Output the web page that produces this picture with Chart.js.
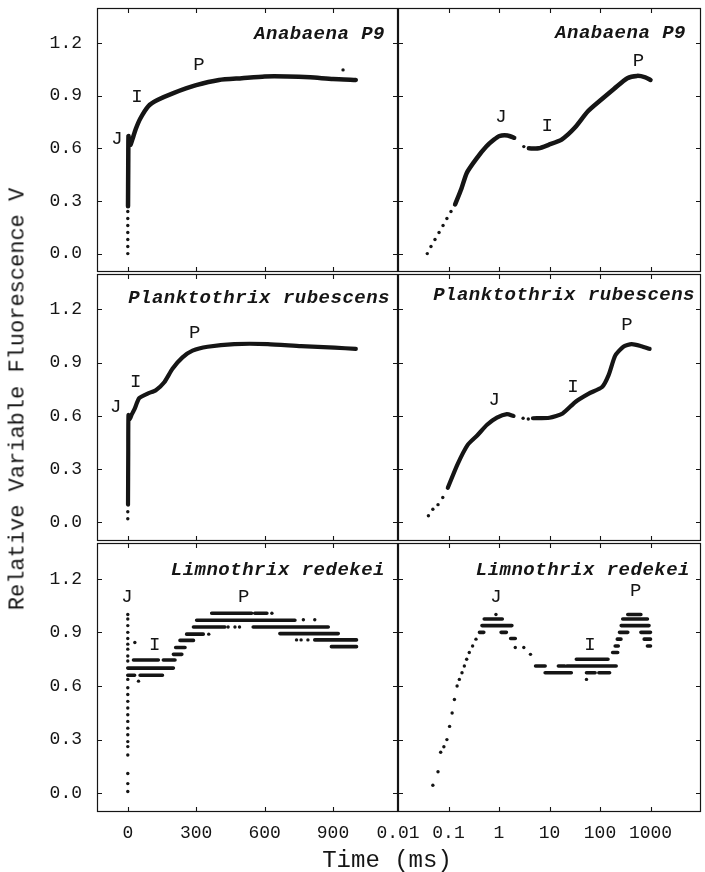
<!DOCTYPE html>
<html>
<head>
<meta charset="utf-8">
<script src="https://cdn.jsdelivr.net/npm/chart.js@4.4.1/dist/chart.umd.min.js"></script>
<style>
  html, body { margin: 0; padding: 0; background: #fff; }
  #wrap { position: relative; width: 705px; height: 872px; background: #fff; overflow: hidden; }
  canvas { position: absolute; }
  .sp { position: absolute; font: italic bold 19px "Liberation Mono", "DejaVu Sans Mono", monospace; letter-spacing: 0.5px; line-height: 24px; color: #151515; white-space: nowrap; }
  #xt { position: absolute; left: 387px; top: 860px; transform: translate(-50%, -50%); font: 24px "Liberation Mono", monospace; color: #151515; white-space: nowrap; }
  #yt { position: absolute; left: 18px; top: 399px; transform: translate(-50%, -50%) rotate(-90deg); font: 22px "Liberation Mono", monospace; color: #151515; white-space: nowrap; }
</style>
</head>
<body>
<div id="wrap">
  <canvas id="c00" width="402" height="276"></canvas>
  <canvas id="c01" width="365" height="276"></canvas>
  <canvas id="c10" width="402" height="275"></canvas>
  <canvas id="c11" width="365" height="275"></canvas>
  <canvas id="c20" width="402" height="333"></canvas>
  <canvas id="c21" width="365" height="333"></canvas>
  <div id="xt">Time (ms)</div>
  <div id="yt">Relative Variable Fluorescence V</div>
</div>
<script>
// ---------------- data ----------------
const SPECIES = ['Anabaena P9', 'Planktothrix rubescens', 'Limnothrix redekei'];
const LEFT_X_TICKS = [0, 300, 600, 900];
const RIGHT_X_TICKS = [0.01, 0.1, 1, 10, 100, 1000];
const Y_TICKS = [0, 0.3, 0.6, 0.9, 1.2];

// Anabaena P9, linear time (ms, V)
const anabaenaLinLine = [[1,0.27],[2,0.50],[3,0.67],[6,0.62],[12,0.62],[20,0.65],[35,0.71],[55,0.77],[90,0.84],[130,0.875],[200,0.915],[300,0.96],[400,0.99],[500,1.0],[600,1.01],[700,1.01],[800,1.005],[900,0.995],[1000,0.99]];
const anabaenaLinDots = [[0,0.0],[0,0.04],[0,0.08],[0,0.12],[0,0.16],[0,0.20],[0,0.24],[944,1.047]];
const anabaenaLinMarks = [[-47,0.656,'J'],[40,0.89,'I'],[312,1.075,'P']];
// Anabaena P9, log time
const anabaenaLogLine = [[0.135,0.28],[0.18,0.37],[0.23,0.46],[0.355,0.54],[0.56,0.61],[0.8,0.65],[1.01,0.67],[1.48,0.673],[2.0,0.66],[2.5,null],[3.9,0.60],[6.1,0.60],[9.6,0.62],[17.4,0.65],[31.6,0.717],[57,0.81],[105,0.877],[191,0.94],[347,1.0],[543,1.013],[790,1.005],[1000,0.99]];
const anabaenaLogDots = [[0.038,0.0],[0.045,0.04],[0.054,0.08],[0.065,0.12],[0.078,0.16],[0.093,0.20],[0.112,0.24],[3.1,0.61]];
const anabaenaLogMarks = [[1.09,0.78,'J'],[9.0,0.725,'I'],[575,1.10,'P']];

// Planktothrix rubescens, linear time
const plankLinLine = [[1,0.10],[2,0.40],[3,0.605],[8,0.58],[18,0.61],[30,0.64],[50,0.70],[87,0.726],[123,0.745],[160,0.79],[196,0.866],[240,0.93],[284,0.968],[350,0.99],[467,1.005],[614,1.005],[760,0.993],[907,0.985],[1000,0.978]];
const plankLinDots = [[0,0.02],[0,0.06]];
const plankLinMarks = [[-53,0.65,'J'],[35,0.79,'I'],[294,1.07,'P']];
// Planktothrix rubescens, log time
const plankLogLine = [[0.097,0.195],[0.15,0.326],[0.24,0.437],[0.37,0.49],[0.58,0.55],[0.91,0.59],[1.43,0.61],[1.94,0.60],[2.5,null],[4.7,0.587],[10,0.59],[18.2,0.614],[33,0.68],[60,0.726],[110,0.763],[148,0.83],[200,0.94],[290,0.99],[423,1.005],[660,0.993],[960,0.978]];
const plankLogDots = [[0.04,0.037],[0.049,0.074],[0.062,0.10],[0.077,0.14],[3.0,0.587],[3.8,0.583]];
const plankLogMarks = [[0.8,0.69,'J'],[29,0.765,'I'],[340,1.11,'P']];

// Limnothrix redekei, linear time: quantised runs [t start, t end, V]
const limnoLinRuns = [[0,200,0.70],[25,134,0.745],[156,207,0.745],[0,30,0.66],[54,152,0.66],[200,237,0.777],[210,251,0.815],[229,288,0.855],[258,331,0.89],[288,426,0.93],[550,879,0.93],[302,733,0.968],[368,543,1.007],[557,610,1.007],[667,923,0.893],[820,1003,0.858],[893,1003,0.82]];
const limnoLinDots = [[0,1.0],[0,0.975],[0,0.938],[0,0.9],[0,0.866],[0,0.834],[0,0.806],[0,0.768],[0,0.74],[0,0.637],[0,0.59],[0,0.552],[0,0.514],[0,0.477],[0,0.439],[0,0.402],[0,0.364],[0,0.327],[0,0.289],[0,0.261],[0,0.214],[0,0.11],[0,0.054],[0,0.01],[31,0.843],[47,0.627],[355,0.89],[440,0.93],[470,0.93],[490,0.93],[632,1.007],[770,0.971],[820,0.971],[740,0.858],[760,0.858],[790,0.858]];
const limnoLinMarks = [[-4,1.10,'J'],[118,0.83,'I'],[508,1.10,'P']];
// Limnothrix redekei, log time
const limnoLogRuns = [[0.41,0.5,0.90],[0.46,1.8,0.938],[0.51,1.16,0.975],[1.1,1.4,0.90],[1.7,2.1,0.866],[5.3,8.2,0.712],[8.2,27,0.674],[15,20,0.712],[22,209,0.712],[34,144,0.75],[54,80,0.674],[95,155,0.674],[178,224,0.787],[200,230,0.824],[220,260,0.862],[243,355,0.90],[263,935,0.938],[282,870,0.975],[355,645,1.0],[645,1000,0.90],[750,1000,0.862],[870,1000,0.824]];
const limnoLogDots = [[0.049,0.045],[0.062,0.12],[0.070,0.229],[0.081,0.26],[0.093,0.30],[0.105,0.374],[0.118,0.449],[0.131,0.524],[0.148,0.60],[0.164,0.637],[0.185,0.674],[0.206,0.712],[0.229,0.75],[0.258,0.787],[0.30,0.824],[0.35,0.862],[0.87,1.0],[2.1,0.815],[3.1,0.815],[4.2,0.777],[54,0.637]];
const limnoLogMarks = [[0.87,1.10,'J'],[63,0.83,'I'],[510,1.13,'P']];

// ---------------- layout ----------------
const INK = '#151515';
const MONO = '"Liberation Mono", "DejaVu Sans Mono", monospace';
const ROWS = [
  { top: 0,   h: 276, pt: 8, pb: 2,  xh: 0 },
  { top: 270, h: 275, pt: 4, pb: 2,  xh: 0 },
  { top: 539, h: 333, pt: 4, pb: 20, xh: 40 }
];
const COLS = [
  { left: 0,   w: 402, yw: 97, pr: 4 },
  { left: 340, w: 365, yw: 58, pr: 1 }
];
const LABEL_POS = [
  [[385, 34], [686, 33]],
  [[390, 298], [695, 295]],
  [[385, 570], [690, 570]]
];

function fmtLog(v) { return v < 1 ? String(v) : String(Math.round(v)); }

function framePlugin(xTicks, marks) {
  return {
    id: 'frame',
    afterDatasetsDraw(chart) {
      const { ctx, chartArea: a, scales: { x, y } } = chart;
      ctx.save();
      ctx.strokeStyle = INK;
      ctx.lineWidth = 1.2;
      ctx.strokeRect(Math.round(a.left) + 0.5, Math.round(a.top) + 0.5, Math.round(a.right - a.left) - 1, Math.round(a.bottom - a.top) - 1);
      ctx.lineWidth = 1.1;
      const L = 5;
      ctx.beginPath();
      for (const v of xTicks) {
        const px = Math.round(x.getPixelForValue(v)) + 0.5;
        if (px <= a.left + 1 || px >= a.right - 1) continue;
        ctx.moveTo(px, a.top); ctx.lineTo(px, a.top + L);
        ctx.moveTo(px, a.bottom); ctx.lineTo(px, a.bottom - L);
      }
      for (const v of Y_TICKS) {
        const py = Math.round(y.getPixelForValue(v)) + 0.5;
        ctx.moveTo(a.left, py); ctx.lineTo(a.left + L, py);
        ctx.moveTo(a.right, py); ctx.lineTo(a.right - L, py);
      }
      ctx.stroke();
      ctx.fillStyle = INK;
      ctx.font = '19px ' + MONO;
      ctx.textAlign = 'center';
      ctx.textBaseline = 'middle';
      for (const [t, v, s] of marks) ctx.fillText(s, x.getPixelForValue(t), y.getPixelForValue(v));
      ctx.restore();
    }
  };
}

function toXY(arr) { return arr.map(([t, v]) => ({ x: t, y: v })); }
function runsToXY(runs) {
  const out = [];
  for (const [a, b, v] of runs) { out.push({ x: a, y: v }, { x: b, y: v }, { x: b, y: null }); }
  return out;
}

function panel(r, c, spec) {
  const row = ROWS[r], col = COLS[c];
  const cv = document.getElementById('c' + r + c);
  cv.style.left = col.left + 'px';
  cv.style.top = row.top + 'px';
  const logX = c === 1;
  const xTicks = logX ? RIGHT_X_TICKS : LEFT_X_TICKS;
  const datasets = [];
  if (spec.line) datasets.push({ data: toXY(spec.line), borderColor: INK, borderWidth: spec.lw, tension: 0.2, pointRadius: 0, borderCapStyle: 'round', borderJoinStyle: 'round', spanGaps: false, fill: false });
  if (spec.runs) datasets.push({ data: runsToXY(spec.runs), borderColor: INK, borderWidth: 3.6, tension: 0, pointRadius: 0, borderCapStyle: 'round', spanGaps: false, fill: false });
  datasets.push({ data: toXY(spec.dots), showLine: false, pointRadius: 1.7, pointBorderWidth: 0, pointBackgroundColor: INK, borderColor: INK });

  new Chart(cv, {
    type: 'line',
    data: { datasets },
    plugins: [framePlugin(xTicks, spec.marks)],
    options: {
      responsive: false,
      animation: false,
      events: [],
      layout: { padding: { left: 0, right: col.pr, top: row.pt, bottom: row.pb } },
      plugins: { legend: { display: false }, tooltip: { enabled: false } },
      scales: {
        x: {
          type: logX ? 'logarithmic' : 'linear',
          min: logX ? 0.01 : -135,
          max: logX ? 10000 : 1185,
          grid: { display: false, drawTicks: false },
          border: { display: false },
          afterBuildTicks: s => { s.ticks = xTicks.map(v => ({ value: v })); },
          afterFit: s => { s.height = row.xh; s.paddingLeft = 0; s.paddingRight = 0; },
          ticks: {
            display: r === 2,
            autoSkip: false,
            maxRotation: 0,
            padding: 10,
            color: INK,
            font: { family: MONO, size: 18 },
            callback: v => logX ? fmtLog(v) : String(v)
          }
        },
        y: {
          type: 'linear',
          min: -0.105,
          max: 1.4,
          grid: { display: false, drawTicks: false },
          border: { display: false },
          afterBuildTicks: s => { s.ticks = Y_TICKS.map(v => ({ value: v })); },
          afterFit: s => { s.width = col.yw; s.paddingTop = 0; s.paddingBottom = 0; },
          ticks: {
            display: c === 0,
            padding: 15,
            color: INK,
            font: { family: MONO, size: 18 },
            callback: v => Number(v).toFixed(1)
          }
        }
      }
    }
  });
}

panel(0, 0, { line: anabaenaLinLine, dots: anabaenaLinDots, marks: anabaenaLinMarks, lw: 4.5 });
panel(0, 1, { line: anabaenaLogLine, dots: anabaenaLogDots, marks: anabaenaLogMarks, lw: 4.5 });
panel(1, 0, { line: plankLinLine, dots: plankLinDots, marks: plankLinMarks, lw: 4.2 });
panel(1, 1, { line: plankLogLine, dots: plankLogDots, marks: plankLogMarks, lw: 4.2 });
panel(2, 0, { runs: limnoLinRuns, dots: limnoLinDots, marks: limnoLinMarks });
panel(2, 1, { runs: limnoLogRuns, dots: limnoLogDots, marks: limnoLogMarks });

// species titles
const wrap = document.getElementById('wrap');
SPECIES.forEach((name, r) => {
  for (let c = 0; c < 2; c++) {
    const [rx, cy] = LABEL_POS[r][c];
    const d = document.createElement('div');
    d.className = 'sp';
    d.textContent = name;
    d.style.right = (705 - rx) + 'px';
    d.style.top = (cy - 12) + 'px';
    wrap.appendChild(d);
  }
});
</script>
</body>
</html>
